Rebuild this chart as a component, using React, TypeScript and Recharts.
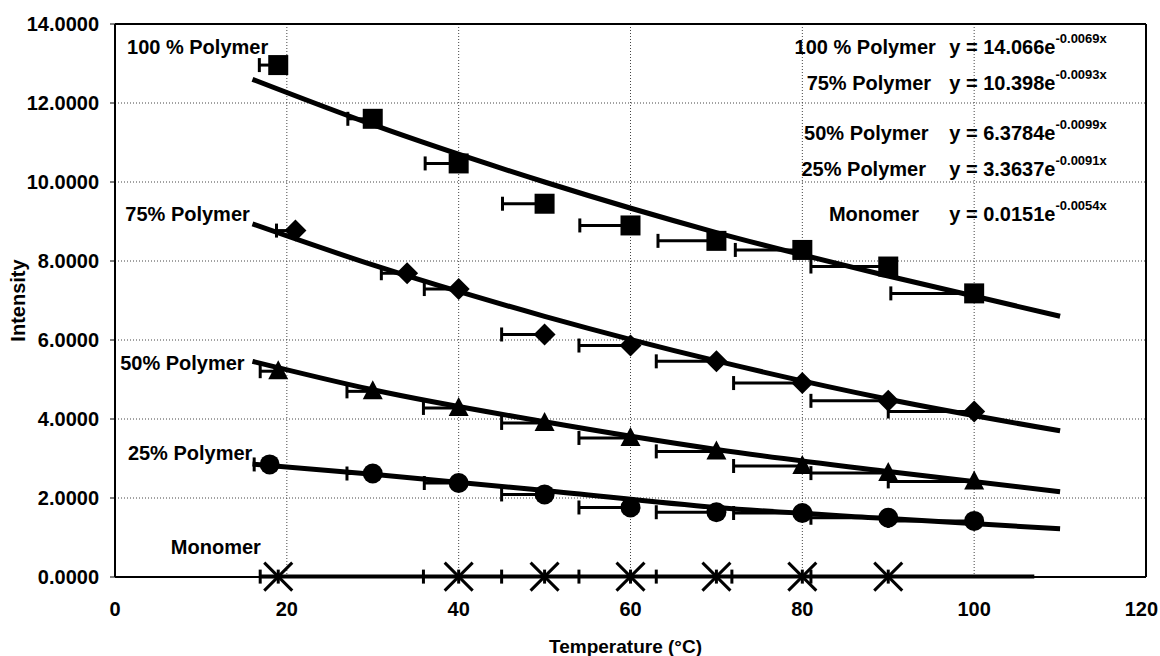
import React from 'react';
import {
  ComposedChart,
  Scatter,
  Line,
  XAxis,
  YAxis,
  CartesianGrid,
  ErrorBar,
  ReferenceLine,
  ReferenceDot,
} from 'recharts';

// measured intensities, with the (left-hand) temperature error of each point
const temp100 = [19, 30, 40, 50, 60, 70, 80, 90, 100];
const int100 = [12.96, 11.6, 10.47, 9.45, 8.9, 8.51, 8.28, 7.86, 7.18];
const err100 = [2.2, 2.9, 3.9, 4.9, 5.9, 6.8, 7.8, 9.0, 9.7];

const temp75 = [21, 34, 40, 50, 60, 70, 80, 90, 100];
const int75 = [8.77, 7.69, 7.29, 6.14, 5.86, 5.46, 4.91, 4.46, 4.19];
const err75 = [2.2, 3.0, 4.0, 5.0, 6.0, 7.0, 8.0, 9.0, 10.0];

const temp50 = [19, 30, 40, 50, 60, 70, 80, 90, 100];
const int50 = [5.21, 4.7, 4.28, 3.9, 3.52, 3.18, 2.81, 2.63, 2.42];
const err50 = [2.1, 3.0, 4.1, 5.0, 6.0, 7.0, 8.0, 9.0, 10.0];

const temp25 = [18, 30, 40, 50, 60, 70, 80, 90, 100];
const int25 = [2.85, 2.62, 2.38, 2.09, 1.76, 1.64, 1.62, 1.5, 1.42];
const err25 = [1.8, 3.0, 4.0, 5.0, 6.0, 7.0, 8.0, 9.0, 10.0];

const tempMono = [19, 40, 50, 60, 70, 80, 90];
const intMono = [0.01, 0.01, 0.01, 0.01, 0.01, 0.01, 0.01];
const errMono = [2.1, 4.1, 5.0, 6.0, 7.0, 8.2, 9.0];

// exponential trend lines, as drawn
const fitTemps = [16, 30, 50, 70, 90, 110];
const fit100 = [12.6, 11.45, 10.0, 8.72, 7.62, 6.6];
const fit75 = [8.94, 7.9, 6.6, 5.47, 4.5, 3.7];
const fit50 = [5.46, 4.74, 3.93, 3.23, 2.67, 2.16];
const fit25 = [2.86, 2.6, 2.19, 1.76, 1.48, 1.22];
const fitMonoTemps = [17, 107];
const fitMono = [0.01, 0.01];

const seriesNames = ['100 % Polymer', '75% Polymer', '50% Polymer', '25% Polymer', 'Monomer'];
const eqCoef = ['14.066', '10.398', '6.3784', '3.3637', '0.0151'];
const eqExp = ['-0.0069x', '-0.0093x', '-0.0099x', '-0.0091x', '-0.0054x'];

const xTicks = [0, 20, 40, 60, 80, 100, 120];
const yTicks = [0, 2, 4, 6, 8, 10, 12, 14];

// where the texts sit, in axis units
const sideLabelPos = [[1.4, 13.43], [1.2, 9.19], [0.6, 5.43], [1.5, 3.15], [6.5, 0.76]];
const eqLabelX = [79.1, 80.5, 80.2, 79.9, 83.1];
const eqRowY = [13.42, 12.5, 11.24, 10.34, 9.2];
const eqX = 97.1;

const FONT = '"Liberation Sans", Arial, Helvetica, sans-serif';
const CHART_W = 1160;

const points = (xs: number[], ys: number[], errs: number[]) =>
  xs.map((x, i) => ({ x, y: ys[i], ex: [errs[i], 0] }));
const curve = (xs: number[], ys: number[]) => xs.map((x, i) => ({ x, y: ys[i] }));

const Square = (p: any) => <rect x={p.cx - 10} y={p.cy - 10} width={20} height={20} fill="#000" />;
const Diamond = (p: any) => (
  <polygon
    points={`${p.cx},${p.cy - 11} ${p.cx + 11},${p.cy} ${p.cx},${p.cy + 11} ${p.cx - 11},${p.cy}`}
    fill="#000"
  />
);
const Triangle = (p: any) => (
  <polygon points={`${p.cx},${p.cy - 11} ${p.cx + 10},${p.cy + 8} ${p.cx - 10},${p.cy + 8}`} fill="#000" />
);
const Dot = (p: any) => <circle cx={p.cx} cy={p.cy} r={10} fill="#000" />;
const Cross = (p: any) => (
  <g stroke="#000" strokeWidth={3}>
    <line x1={p.cx - 14} y1={p.cy - 14} x2={p.cx + 14} y2={p.cy + 14} />
    <line x1={p.cx - 14} y1={p.cy + 14} x2={p.cx + 14} y2={p.cy - 14} />
  </g>
);

const centerOf = (vb: any) => ({ x: vb.x + (vb.width || 0) / 2, y: vb.y + (vb.height || 0) / 2 });

const plainNote = (text: string) => (props: any) => {
  const c = centerOf(props.viewBox);
  return (
    <text x={c.x} y={c.y} dominantBaseline="central" textAnchor="start" fontFamily={FONT} fontSize={20} fontWeight={700} fill="#000">
      {text}
    </text>
  );
};

const eqNote = (coef: string, exp: string) => (props: any) => {
  const c = centerOf(props.viewBox);
  return (
    <text x={c.x} y={c.y} dominantBaseline="central" textAnchor="start" fontFamily={FONT} fontSize={20} fontWeight={700} fill="#000">
      <tspan>{`y = ${coef}e`}</tspan>
      <tspan dy={-9} fontSize={13}>{exp}</tspan>
    </text>
  );
};

// keep the last tick label inside the picture
const XTick = (p: any) => {
  const label = String(p.payload.value);
  const half = (label.length * 11.1) / 2;
  const x = Math.min(p.x, CHART_W - 2 - half);
  return (
    <text x={x} y={p.y} dy={39} textAnchor="middle" fontFamily={FONT} fontSize={20} fontWeight={700} fill="#000">
      {label}
    </text>
  );
};

const XTitle = (props: any) => {
  const vb = props.viewBox;
  return (
    <text x={vb.x + vb.width / 2 - 5} y={vb.y + 76} textAnchor="middle" fontFamily={FONT} fontSize={19} fontWeight={700} fill="#000">
      Temperature (°C)
    </text>
  );
};

const YTitle = (props: any) => {
  const vb = props.viewBox;
  const x = vb.x + 18;
  const y = vb.y + vb.height / 2;
  return (
    <text x={x} y={y} transform={`rotate(-90, ${x}, ${y})`} textAnchor="middle" dominantBaseline="central" fontFamily={FONT} fontSize={20} fontWeight={700} fill="#000">
      Intensity
    </text>
  );
};

const markSeries = [
  { name: seriesNames[0], data: points(temp100, int100, err100), shape: Square },
  { name: seriesNames[1], data: points(temp75, int75, err75), shape: Diamond },
  { name: seriesNames[2], data: points(temp50, int50, err50), shape: Triangle },
  { name: seriesNames[3], data: points(temp25, int25, err25), shape: Dot },
  { name: seriesNames[4], data: points(tempMono, intMono, errMono), shape: Cross },
];

const fitSeries = [
  curve(fitTemps, fit100),
  curve(fitTemps, fit75),
  curve(fitTemps, fit50),
  curve(fitTemps, fit25),
  curve(fitMonoTemps, fitMono),
];

export default function App() {
  return (
    <div style={{ position: 'absolute', left: 0, top: 0, width: CHART_W, height: 656, background: '#fff' }}>
      <ComposedChart width={CHART_W} height={656} margin={{ top: 24, right: 14, bottom: 0, left: 0 }}>
        <CartesianGrid stroke="#444" strokeDasharray="1 2" />
        <XAxis
          type="number"
          dataKey="x"
          domain={[0, 120]}
          ticks={xTicks}
          interval={0}
          height={79}
          axisLine={{ stroke: '#000', strokeWidth: 2 }}
          tickLine={false}
          tickSize={0}
          tickMargin={0}
          tick={XTick}
          label={{ content: XTitle }}
        />
        <YAxis
          type="number"
          dataKey="y"
          domain={[0, 14]}
          ticks={yTicks}
          interval={0}
          width={115}
          axisLine={{ stroke: '#000', strokeWidth: 2 }}
          tickLine={{ stroke: '#000' }}
          tickSize={5}
          tickMargin={11}
          tickFormatter={(v: number) => v.toFixed(4)}
          tick={{ fill: '#000', fontSize: 20, fontWeight: 700, fontFamily: FONT }}
          label={{ content: YTitle }}
        />
        <ReferenceLine y={14} stroke="#000" strokeWidth={2} />
        <ReferenceLine x={120} stroke="#000" strokeWidth={2} />

        {fitSeries.map((d, i) => (
          <Line
            key={`fit-${i}`}
            data={d}
            dataKey="y"
            type="monotone"
            stroke="#000"
            strokeWidth={i === 4 ? 4 : 5}
            dot={false}
            activeDot={false}
            isAnimationActive={false}
          />
        ))}

        {markSeries.map((s) => (
          <Scatter key={s.name} name={s.name} data={s.data} dataKey="y" shape={s.shape} isAnimationActive={false}>
            <ErrorBar dataKey="ex" direction="x" width={7} stroke="#000" strokeWidth={3} isAnimationActive={false} />
          </Scatter>
        ))}

        {seriesNames.map((n, i) => (
          <ReferenceDot
            key={`side-${i}`}
            x={sideLabelPos[i][0]}
            y={sideLabelPos[i][1]}
            r={1}
            fill="none"
            stroke="none"
            label={plainNote(n)}
          />
        ))}
        {seriesNames.map((n, i) => (
          <ReferenceDot
            key={`eqname-${i}`}
            x={eqLabelX[i]}
            y={eqRowY[i]}
            r={1}
            fill="none"
            stroke="none"
            label={plainNote(n)}
          />
        ))}
        {eqCoef.map((c, i) => (
          <ReferenceDot
            key={`eq-${i}`}
            x={eqX}
            y={eqRowY[i]}
            r={1}
            fill="none"
            stroke="none"
            label={eqNote(c, eqExp[i])}
          />
        ))}
      </ComposedChart>
    </div>
  );
}
